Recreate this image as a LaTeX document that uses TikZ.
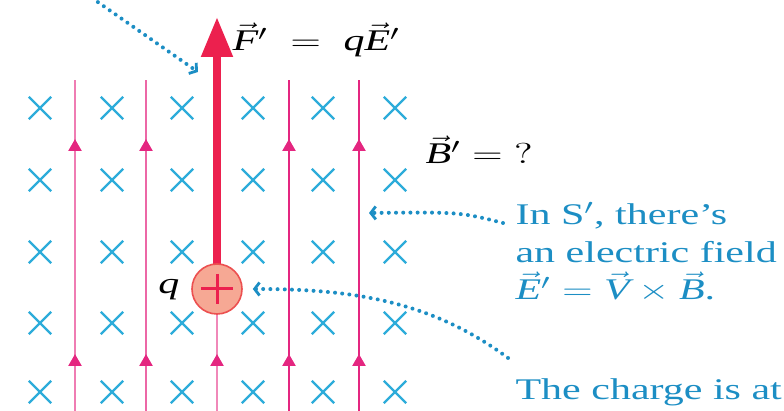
\documentclass[tikz,border=0pt]{standalone}
\usepackage{fontspec}
\setmainfont{Liberation Serif}
\usetikzlibrary{arrows.meta, shapes.misc, calc}
\definecolor{crossblue}{RGB}{45,172,218}
\definecolor{fieldpink}{RGB}{228,38,128}
\definecolor{forcered}{RGB}{236,32,78}
\definecolor{chargefill}{RGB}{246,168,148}
\definecolor{chargeedge}{RGB}{236,80,80}
\definecolor{noteblue}{RGB}{28,142,196}
\newcommand{\fv}[1]{\vec{\mathit{#1}}}

\begin{document}
\begin{tikzpicture}[
  x=0.5pt, y=-0.5pt,
  bcross/.style={cross out, draw=crossblue, line width=1.2pt, minimum size=10pt, inner sep=0pt},
  eline/.style={line width=1.2pt},
  emark/.style={-{Triangle[width=6.5pt, length=6pt, color=fieldpink]}},
  force/.style={draw=forcered, line width=4pt, -{Triangle[width=15pt, length=20pt]}},
  charge/.style={circle, draw=chargeedge, line width=0.8pt, fill=chargefill, minimum size=25pt, inner sep=0pt},
  plussign/.style={draw=forcered, line width=1.5pt},
  txt/.style={anchor=west, inner sep=0pt, xscale=1.4, font=\fontsize{15}{18.75}\selectfont},
  note/.style={txt, text=noteblue, align=left},
  pointer/.style={draw=noteblue, line width=2pt, line cap=round, dash pattern=on 0pt off 3.6pt, -{Straight Barb[length=2.5pt, width=6.5pt, line width=1.4pt]}},
]
\useasboundingbox (0,0) rectangle (784,411);

% Magnetic field into the page
\foreach \cx [count=\i] in {40,112,182,253,323,395}
  \foreach \cy [count=\j] in {108,180,252,323,392}
    \node[bcross] (b\i\j) at (\cx,\cy) {};

% Electric field lines
\foreach \lx/\ls in {75/60, 146/70, 289/100, 359/100} {
  \draw[eline, fieldpink!\ls] (\lx,411) -- (\lx,80);
  \draw[eline, emark, fieldpink!\ls] (\lx,411) -- (\lx,354);
  \draw[eline, emark, fieldpink!\ls] (\lx,354) -- (\lx,139);
}

% Charge and force
\coordinate (qc) at (217,289);
\coordinate (ftip) at (217,17);
\draw[eline, fieldpink!55] (217,411) -- (qc);
\draw[eline, emark, fieldpink!55] (217,411) -- (217,354);
\draw[force] (qc) -- (ftip);
\node[charge] (qpos) at (qc) {};
\draw[plussign] ($(qpos)+(-16,0)$) -- ($(qpos)+(16,0)$);
\draw[plussign] ($(qpos)+(0,-15)$) -- ($(qpos)+(0,15)$);
\node[txt, anchor=east] (qlabel) at (180,290) {$\mathit{q}$};

% Labels
\node[txt] (flabel) at (232,40) {$\fv{F}' \;=\; \mathit{q}\fv{E}'$};
\node[txt] (blabel) at (425,150) {$\fv{B}' = \mathord{?}$};
\node[note] (snote) at (515,252) {In S$'$, there's\\an electric field\\$\fv{E}' = \fv{V}\times\fv{B}$.};
\node[note] (cnote) at (515,392) {The charge is at};

% Pointers
\coordinate (ptop) at (92,-2);
\coordinate (fmid) at (198,72);
\coordinate (lmid) at (369,213);
\draw[pointer] (ptop) -- (fmid);
\draw[pointer] ($(snote.west)+(-12,-29)$) .. controls (460,212) .. (lmid);
\draw[pointer] ($(cnote.north west)+(-7,-20)$) .. controls (430,300) and (350,289) .. ($(qpos.east)+(10,0)$);
\end{tikzpicture}
\end{document}
